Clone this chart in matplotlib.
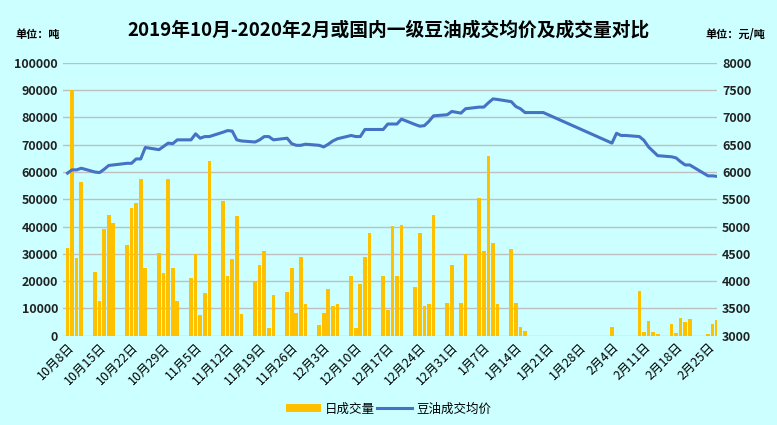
import matplotlib
matplotlib.use('Agg')
import matplotlib.pyplot as plt
import numpy as np
import datetime as dt

plt.rcParams['font.family'] = ['Noto Sans CJK SC', 'DejaVu Sans']

# trading days (month, day) with daily volume (tons) and average price (yuan/ton)
days = [(10, 8), (10, 9), (10, 10), (10, 11),
        (10, 14), (10, 15), (10, 16), (10, 17), (10, 18),
        (10, 21), (10, 22), (10, 23), (10, 24), (10, 25),
        (10, 28), (10, 29), (10, 30), (10, 31), (11, 1),
        (11, 4), (11, 5), (11, 6), (11, 7), (11, 8),
        (11, 11), (11, 12), (11, 13), (11, 14), (11, 15),
        (11, 18), (11, 19), (11, 20), (11, 21), (11, 22),
        (11, 25), (11, 26), (11, 27), (11, 28), (11, 29),
        (12, 2), (12, 3), (12, 4), (12, 5), (12, 6),
        (12, 9), (12, 10), (12, 11), (12, 12), (12, 13),
        (12, 16), (12, 17), (12, 18), (12, 19), (12, 20),
        (12, 23), (12, 24), (12, 25), (12, 26), (12, 27),
        (12, 30), (12, 31), (1, 2), (1, 3),
        (1, 6), (1, 7), (1, 8), (1, 9), (1, 10),
        (1, 13), (1, 14), (1, 15), (1, 16), (1, 17), (1, 20),
        (2, 4), (2, 5), (2, 6), (2, 7),
        (2, 10), (2, 11), (2, 12), (2, 13), (2, 14),
        (2, 17), (2, 18), (2, 19), (2, 20), (2, 21),
        (2, 25), (2, 26), (2, 27)]

volume = [32000, 90000, 28500, 56500,
          23500, 12700, 39000, 44200, 41500,
          33400, 47000, 48700, 57600, 25000,
          30500, 23000, 57600, 25000, 12700,
          21000, 30000, 7700, 15800, 64000,
          49500, 22000, 28300, 44000, 7800,
          20000, 26000, 31000, 3000, 15000,
          16200, 25000, 8400, 28700, 11600,
          4000, 8400, 17000, 11000, 11700,
          22000, 3000, 19000, 29000, 37800,
          22000, 9400, 40300, 21900, 40600,
          18000, 37700, 11000, 11600, 44300,
          11900, 26000, 11900, 30000,
          50500, 31000, 66000, 34000, 11600,
          31800, 11900, 3300, 1700, 0, 0,
          3300, 0, 0, 0,
          16500, 1300, 5400, 1300, 600,
          4300, 1000, 6500, 5000, 6100,
          600, 4300, 5800]

price = [5980, 6040, 6040, 6070,
         6000, 5990, 6050, 6120, 6130,
         6160, 6160, 6240, 6240, 6450,
         6410, 6470, 6530, 6520, 6590,
         6590, 6700, 6620, 6650, 6650,
         6730, 6760, 6750, 6590, 6570,
         6550, 6590, 6650, 6650, 6590,
         6620, 6520, 6490, 6490, 6510,
         6490, 6460, 6510, 6570, 6610,
         6670, 6650, 6650, 6780, 6780,
         6780, 6880, 6880, 6880, 6970,
         6870, 6840, 6850, 6930, 7030,
         7050, 7110, 7080, 7160,
         7190, 7190, 7270, 7340, 7330,
         7290, 7200, 7160, 7090, 7090, 7090,
         6530, 6710, 6670, 6670,
         6650, 6580, 6460, 6380, 6300,
         6280, 6260, 6190, 6130, 6130,
         5930, 5930, 5920]

dates = [dt.date(2019 if m >= 10 else 2020, m, d) for m, d in days]
ticks = [dt.date(2019, 10, 8) + dt.timedelta(days=7 * i) for i in range(21)]
tick_labels = ['%d月%d日' % (t.month, t.day) for t in ticks]

bg = '#CCFFFF'
fig = plt.figure(figsize=(7.77, 4.25), dpi=100, facecolor=bg)
ax = fig.add_axes([0.081, 0.21, 0.842, 0.642], facecolor=bg)
ax2 = ax.twinx()

ax.bar(dates, volume, width=0.8, color='#FFC000', zorder=2, label='日成交量')
ax2.plot(dates, price, color='#4472C4', lw=2.2, zorder=3, label='豆油成交均价')

ax.set_xlim(dt.date(2019, 10, 7) + dt.timedelta(hours=12), dt.date(2020, 2, 27) + dt.timedelta(hours=14))
ax.set_ylim(0, 100000)
ax2.set_ylim(3000, 8000)
ax.set_yticks(np.arange(0, 100001, 10000))
ax2.set_yticks(np.arange(3000, 8001, 500))
ax.yaxis.grid(True, color='#BFBFBF', lw=1, zorder=0)
ax.set_axisbelow(True)

ax.set_xticks(ticks)
ax.set_xticklabels(tick_labels, rotation=45, ha='right', rotation_mode='anchor', fontsize=9)
for a in (ax, ax2):
    for s in a.spines.values():
        s.set_visible(False)
    a.tick_params(length=0)
ax.tick_params(axis='y', labelsize=9)
ax2.tick_params(axis='y', labelsize=9)
for lab in ax.get_yticklabels() + ax2.get_yticklabels():
    lab.set_fontweight('bold')
    lab.set_color('#222222')

fig.text(0.5, 0.93, '2019年10月-2020年2月或国内一级豆油成交均价及成交量对比',
         ha='center', va='center', fontsize=13.5, fontweight='bold')
fig.text(0.02, 0.918, '单位：吨', fontsize=8, fontweight='bold', va='center')
fig.text(0.985, 0.918, '单位：元/吨', fontsize=8, fontweight='bold', va='center', ha='right')

h1, l1 = ax.get_legend_handles_labels()
h2, l2 = ax2.get_legend_handles_labels()
fig.legend(h1 + h2, l1 + l2, loc='center', bbox_to_anchor=(0.5, 0.038), ncol=2,
           frameon=False, fontsize=9, handlelength=2.8, columnspacing=0.2, handletextpad=0.3)

plt.savefig('out.png', facecolor=bg)
